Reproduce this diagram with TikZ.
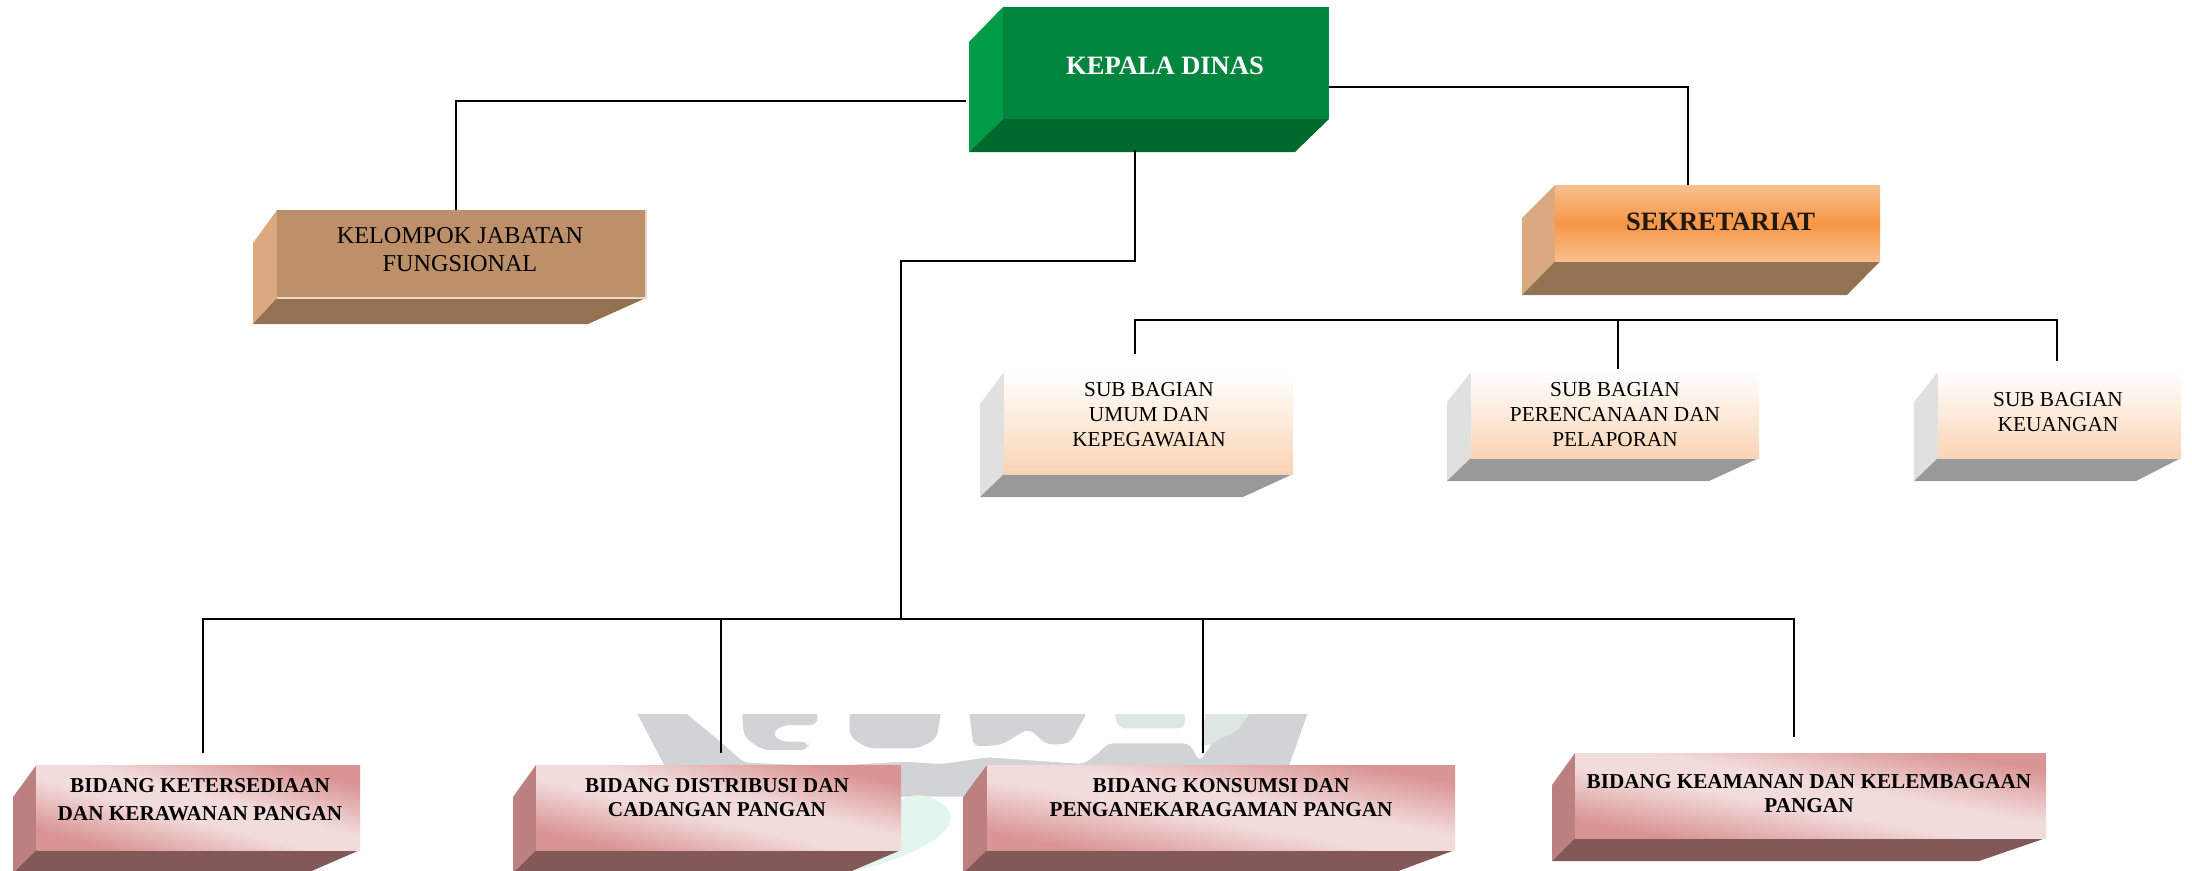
\documentclass[tikz,border=0pt]{standalone}
\usepackage{fontspec}
\setmainfont{Liberation Serif}
\definecolor{wmgrey}{HTML}{D2D3D4}
\definecolor{wmmint}{HTML}{E2F6EE}
\definecolor{wmtint}{HTML}{DEE6E2}
\definecolor{pinkdk}{RGB}{217,149,148}
\definecolor{pinklt}{RGB}{242,219,219}
\pgfdeclareverticalshading{pinkdiag}{100bp}{color(0bp)=(pinkdk); color(27bp)=(pinkdk); color(45bp)=(pinklt); color(55bp)=(pinklt); color(73bp)=(pinkdk); color(100bp)=(pinkdk)}
\tikzset{
  conn/.style={draw=black,line width=2pt,line join=miter},
  frontface/.style={anchor=north west,inner sep=0pt,outer sep=0pt},
  greenfront/.style={frontface,fill={rgb,255:red,0;green,133;blue,63}},
  greenside/.style={fill={rgb,255:red,0;green,155;blue,70}},
  greenbot/.style={fill={rgb,255:red,0;green,105;blue,45}},
  tanfront/.style={frontface,fill={rgb,255:red,189;green,144;blue,105}},
  tanside/.style={fill={rgb,255:red,218;green,169;blue,127}},
  tanbot/.style={fill={rgb,255:red,147;green,113;blue,83}},
  orangefront/.style={frontface,shading=axis,top color={rgb,255:red,249;green,190;blue,143},
     bottom color={rgb,255:red,249;green,190;blue,143},middle color={rgb,255:red,247;green,150;blue,70}},
  subfront/.style={frontface,shading=axis,top color=white,bottom color={rgb,255:red,251;green,212;blue,180}},
  subside/.style={fill={rgb,255:red,224;green,224;blue,224}},
  subbot/.style={fill={rgb,255:red,153;green,153;blue,153}},
  pinkfront/.style={frontface,shading=pinkdiag,shading angle=#1},
  pinkside/.style={fill={rgb,255:red,187;green,128;blue,127}},
  pinkbot/.style={fill={rgb,255:red,131;green,88;blue,88}},
  lbl/.style={align=center,inner sep=0pt,text=black},
  lblsub/.style={lbl,font=\fontsize{21.3}{25}\selectfont},
  lblpink/.style={lbl,font=\fontsize{21.2}{24}\selectfont\bfseries},
}
% outer-left, front-left, right, top, side-top, front-bottom, bottom, bottom-right, colour family
\newcommand{\boxfaces}[9]{%
  \fill[#9side] (#1,#5) -- (#2,#4) -- (#2,#6) -- (#1,#7) -- cycle;
  \fill[#9bot] (#2,#6) -- (#3,#6) -- (#8,#7) -- (#1,#7) -- cycle;
}
\begin{document}
\begin{tikzpicture}[x=1pt,y=-1pt]
\useasboundingbox (0,0) rectangle (2192,870);
\clip (0,0) rectangle (2192,870);
% watermark
\begin{scope}[shift={(620,700)},xscale=0.4592,yscale=0.3333]
  \fill[wmgrey] (38,42) -- (1497,42) -- (1455,205) -- (800,205) -- (745,290) -- (612,290) -- (612,205) -- (100,205) -- cycle;
  \fill[wmmint] (612,300) .. controls (650,270) and (700,290) .. (720,345) .. controls (730,400) and (640,470) .. (510,515) -- (500,515) -- (612,440) -- cycle;
  \fill[white,rounded corners=6pt] (135,30) -- (215,120) -- (270,188) -- (450,198) -- (620,185) -- (700,192) -- (800,172) -- (1010,192) -- (1050,150) -- (1060,130) -- (1240,130) -- (1262,185) -- (1290,130) -- (1280,30) -- cycle;
  \fill[wmgrey,rounded corners=6pt] (1290,190) -- (1300,130) -- (1345,90) -- (1370,130) -- (1340,190) -- cycle;
  \fill[wmtint] (1275,42) -- (1370,42) -- (1345,90) -- (1290,130) -- (1265,140) -- cycle;
  \begin{scope}[rounded corners=7pt]
    \fill[wmgrey] (265,30) -- (430,30) -- (430,75) -- (355,75) -- (330,100) -- (350,125) -- (410,125) -- (410,150) -- (310,150) -- (270,110) -- cycle;
    \fill[wmgrey] (500,30) -- (700,30) -- (690,115) -- (650,145) -- (540,145) -- (500,110) -- cycle;
    \fill[wmgrey] (760,30) -- (1020,30) -- (980,130) -- (930,135) -- (890,85) -- (830,135) -- (770,140) -- cycle;
    \fill[wmtint] (1075,30) -- (1230,30) -- (1230,85) -- (1085,85) -- cycle;
  \end{scope}
  \fill[white] (710,80) ellipse (8 and 25);
\end{scope}
\fill[white] (600,690) rectangle (1330,714);
% box faces
\boxfaces{969}{1003}{1329}{7}{42}{119}{152}{1295}{green}
\boxfaces{1522}{1555}{1880}{185}{218}{261.5}{295}{1847}{tan}
\boxfaces{253}{277}{646}{210}{243}{298}{324}{588}{tan}
\boxfaces{980}{1004}{1293}{372}{404}{474}{497}{1243}{sub}
\boxfaces{1447}{1471}{1759}{372}{402}{458}{481}{1709}{sub}
\boxfaces{1914}{1938}{2181}{372}{402}{458}{481}{2136}{sub}
\boxfaces{13}{36.5}{360}{765}{797}{850}{873}{307}{pink}
\boxfaces{513}{536}{901}{765}{797}{850}{873}{847}{pink}
\boxfaces{963}{987}{1455}{765}{797}{850}{873}{1393}{pink}
\boxfaces{1552}{1575}{2046}{753}{785}{838}{861}{1979}{pink}
% box fronts
\node[greenfront,minimum width=326pt,minimum height=112pt] (kepala) at (1003,7) {};
\node[orangefront,minimum width=325pt,minimum height=76.5pt] (sek) at (1555,185) {};
\node[tanfront,minimum width=369pt,minimum height=88pt] (fung) at (277,210) {};
\node[subfront,minimum width=289pt,minimum height=102pt] (sub1) at (1004,372) {};
\node[subfront,minimum width=288pt,minimum height=86pt] (sub2) at (1471,372) {};
\node[subfront,minimum width=243pt,minimum height=86pt] (sub3) at (1938,372) {};
\node[pinkfront=-14.7,minimum width=323.5pt,minimum height=85pt] (bid1) at (36.5,765) {};
\node[pinkfront=-13.1,minimum width=365pt,minimum height=85pt] (bid2) at (536,765) {};
\node[pinkfront=-10.3,minimum width=468pt,minimum height=85pt] (bid3) at (987,765) {};
\node[pinkfront=-10.2,minimum width=471pt,minimum height=85pt] (bid4) at (1575,753) {};
\draw[draw={rgb,255:red,232;green,216;blue,204},line width=1.5pt] (fung.north east) -- (fung.south east) -- (fung.south west);
% labels
\node[lbl,text=white,font=\fontsize{26.5}{30}\selectfont\bfseries] (tkepala) at (1165,65.5) {KEPALA DINAS};
\node[lbl,text={rgb,255:red,30;green,24;blue,18},font=\fontsize{26.5}{30}\selectfont\bfseries] (tsek) at (1720.5,222) {SEKRETARIAT};
\node[lbl,font=\fontsize{24.2}{28}\selectfont] (tfung) at (460,250) {KELOMPOK JABATAN\\FUNGSIONAL};
\node[lblsub] (tsub1) at (1149,415) {SUB BAGIAN\\UMUM DAN\\KEPEGAWAIAN};
\node[lblsub] (tsub2) at (1615,415) {SUB BAGIAN\\PERENCANAAN DAN\\PELAPORAN};
\node[lblsub] (tsub3) at (2058,412) {SUB BAGIAN\\KEUANGAN};
\node[lblpink,font=\fontsize{21.2}{28}\selectfont\bfseries] (tbid1) at (200,800) {BIDANG KETERSEDIAAN\\DAN KERAWANAN PANGAN};
\node[lblpink] (tbid2) at (717,797.5) {BIDANG DISTRIBUSI DAN\\CADANGAN PANGAN};
\node[lblpink] (tbid3) at (1221,798) {BIDANG KONSUMSI DAN\\PENGANEKARAGAMAN PANGAN};
\node[lblpink] (tbid4) at (1809,794) {BIDANG KEAMANAN DAN KELEMBAGAAN\\PANGAN};
% junctions and free ends
\coordinate (kl) at (966,101);
\coordinate (fx) at (456,101);
\coordinate (sx) at (1688,86.5);
\coordinate (dn) at (1135,261);
\coordinate (tr) at (901,261);
\coordinate (hub) at (901,619);
\coordinate (ba) at (203,619);
\coordinate (bb) at (721,619);
\coordinate (bc) at (1203,619);
\coordinate (bd) at (1794,619);
\coordinate (ea) at (203,753);
\coordinate (eb) at (721,753);
\coordinate (ec) at (1203,753);
\coordinate (ed) at (1794,737);
\coordinate (sa) at (1135,319.5);
\coordinate (sb) at (1618,319.5);
\coordinate (sc) at (2057,319.5);
\coordinate (fa) at (1135,354);
\coordinate (fb) at (1618,369);
\coordinate (fc) at (2057,361);
% connectors
\draw[conn] (kl) -- (fx) -- (fung.north -| fx);
\draw[conn] (kepala.east |- sx) -- (sx) -- (sek.north -| sx);
\draw[conn] (dn |- kepala.south) ++(0,31) -- (dn) -- (tr) -- (hub);
\draw[conn] (ea) -- (ba) -- (bd) -- (ed);
\draw[conn] (bb) -- (eb);
\draw[conn] (bc) -- (ec);
\draw[conn] (fa) -- (sa) -- (sc) -- (fc);
\draw[conn] (sb) -- (fb);
\end{tikzpicture}
\end{document}
